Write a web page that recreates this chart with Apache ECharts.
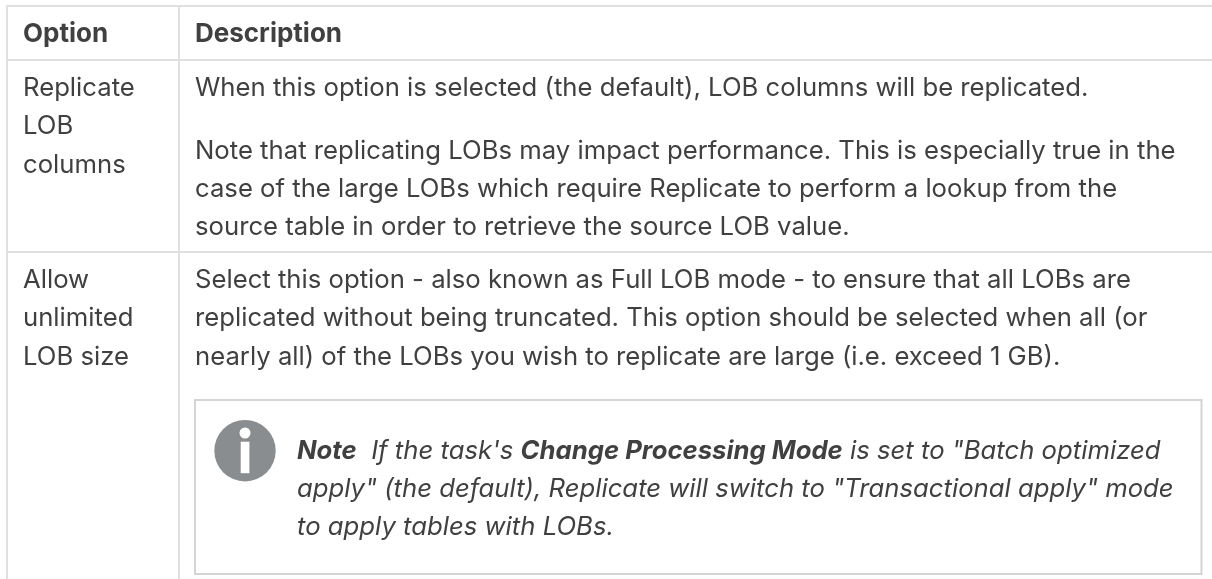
<!DOCTYPE html>
<html><head><meta charset="utf-8">
<style>html,body{margin:0;padding:0;background:#fff}#c{width:1212px;height:579px}</style>
<script src="https://cdn.jsdelivr.net/npm/echarts@6/dist/echarts.min.js"></script>
</head><body><div id="c"></div>
<script>
const headers = ["Option", "Description"];
const optionLabels = [["Replicate","LOB","columns"],["Allow","unlimited","LOB size"]];
const row1Lines = ["When this option is selected (the default), LOB columns will be replicated.",
 "Note that replicating LOBs may impact performance. This is especially true in the",
 "case of the large LOBs which require Replicate to perform a lookup from the",
 "source table in order to retrieve the source LOB value."];
const row2Lines = ["Select this option - also known as Full LOB mode - to ensure that all LOBs are",
 "replicated without being truncated. This option should be selected when all (or",
 "nearly all) of the LOBs you wish to replicate are large (i.e. exceed 1 GB)."];
const FONT = "Inter", C = "#404040", B = "#e0e0e0";
const T = 25.7;
const g = [];
function hl(y,x1,x2,c,w){g.push({type:'rect',shape:{x:x1,y:y-1,width:x2-x1,height:w||2},style:{fill:c||B},silent:true});}
function vl(x,y1,y2,c,w){g.push({type:'rect',shape:{x:x-1,y:y1,width:w||2,height:y2-y1},style:{fill:c||B},silent:true});}
function txt(s,x,y,o){g.push({type:'text',x:x,y:y,style:Object.assign({text:s,fontFamily:FONT,fontSize:T,fill:C,verticalAlign:'middle'},o||{}),silent:true});}
hl(6,6,1212); hl(60,6,1212); hl(252,6,1212);
vl(7,5,579); vl(179,5,579);
txt(headers[0],23,34,{fontWeight:'bold',fontSize:26}); txt(headers[1],195,34,{fontWeight:'bold',fontSize:26});
optionLabels[0].forEach((s,i)=>txt(s,23,88+i*38.5));
optionLabels[1].forEach((s,i)=>txt(s,23,280+i*38.5));
[88,151,189,227.5].forEach((y,i)=>txt(row1Lines[i],195,y));
[280,318.5,357].forEach((y,i)=>txt(row2Lines[i],195,y));
// note box
g.push({type:'rect',shape:{x:195,y:400,width:1006.5,height:174},style:{fill:'#fff',stroke:'#d4d4d4',lineWidth:2},silent:true});
g.push({type:'circle',shape:{cx:245,cy:450.7,r:30.7},style:{fill:'#8a8d90'},silent:true});
g.push({type:'circle',shape:{cx:245,cy:433,r:5.5},style:{fill:'#fff'},silent:true});
g.push({type:'rect',shape:{x:240.7,y:441.7,width:8.7,height:31.5},style:{fill:'#fff'},silent:true});
g.push({type:'text',x:297,y:451,style:{
 text:"{b|Note}{i|  If the task's }{b|Change Processing Mode}{i| is set to \"Batch optimized}",
 verticalAlign:'middle',
 rich:{b:{fontFamily:FONT,fontSize:T,fontStyle:'italic',fontWeight:'bold',fill:C},i:{fontFamily:FONT,fontSize:T,fontStyle:'italic',fill:C}}},silent:true});
txt("apply\" (the default), Replicate will switch to \"Transactional apply\" mode",297,489,{fontStyle:'italic'});
txt("to apply tables with LOBs.",297,527.5,{fontStyle:'italic'});
const chart = echarts.init(document.getElementById('c'),null,{renderer:'canvas'});
chart.setOption({animation:false,backgroundColor:'#fff',graphic:{elements:g}});
</script></body></html>
